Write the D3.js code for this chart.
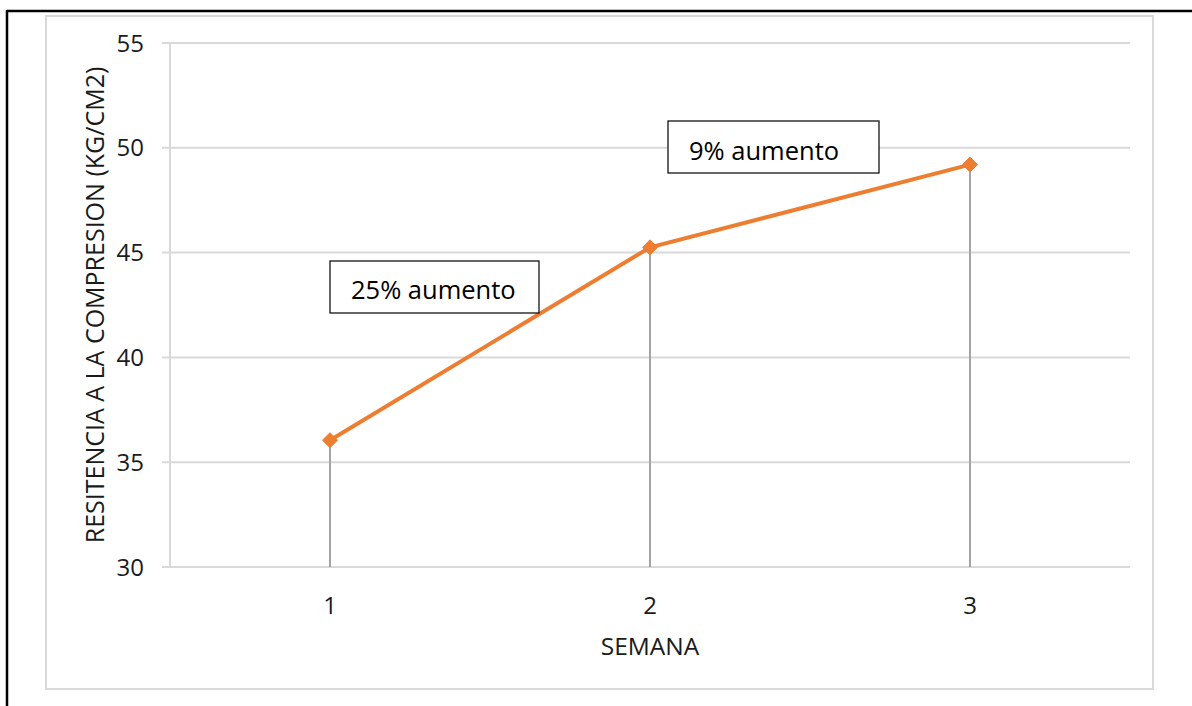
<!DOCTYPE html>
<html>
<head>
<meta charset="utf-8">
<script src="https://cdn.jsdelivr.net/npm/d3@7"></script>
<style>
  html, body { margin: 0; padding: 0; background: #fff; }
  svg { display: block; }
  text { font-family: "Open Sans", "Noto Sans", sans-serif; fill: #1a1a1a; }
</style>
</head>
<body>
<svg id="chart" width="1192" height="706"></svg>
<script>
// ---- data ----
const categories = ["1", "2", "3"];
const values = [36.05, 45.25, 49.2];
const yTicks = [30, 35, 40, 45, 50, 55];
const xTitle = "SEMANA";
const yTitle = "RESITENCIA A LA COMPRESION (KG/CM2)";
const annotations = [
  { label: "25% aumento" },
  { label: "9% aumento" }
];

// ---- layout ----
const svg = d3.select("#chart");
const plot = { left: 170, right: 1130, top: 43, bottom: 567 };

const x = d3.scaleBand().domain(categories).range([plot.left, plot.right]).padding(0);
const y = d3.scaleLinear().domain([30, 55]).range([plot.bottom, plot.top]);
const cx = d => x(d) + x.bandwidth() / 2;

// outer page border (black, top + left)
svg.append("line").attr("x1", 7).attr("x2", 1192).attr("y1", 11).attr("y2", 11)
  .attr("stroke", "#000").attr("stroke-width", 2.5);
svg.append("line").attr("x1", 7).attr("x2", 7).attr("y1", 10).attr("y2", 706)
  .attr("stroke", "#000").attr("stroke-width", 2.5);

// chart area frame
svg.append("rect").attr("x", 46).attr("y", 16).attr("width", 1107).attr("height", 673)
  .attr("fill", "#fff").attr("stroke", "#d9d9d9").attr("stroke-width", 2);

// gridlines
svg.append("g").selectAll("line").data(yTicks).join("line")
  .attr("x1", plot.left - 8).attr("x2", plot.right)
  .attr("y1", d => y(d)).attr("y2", d => y(d))
  .attr("stroke", "#d9d9d9").attr("stroke-width", 2);

// y axis line
svg.append("line").attr("x1", plot.left).attr("x2", plot.left)
  .attr("y1", y(55)).attr("y2", y(30)).attr("stroke", "#d9d9d9").attr("stroke-width", 2);

// y tick labels
svg.append("g").selectAll("text").data(yTicks).join("text")
  .attr("x", 144).attr("y", d => y(d)).attr("dy", "0.36em")
  .attr("text-anchor", "end").attr("font-size", 24).text(d => d);

// x tick labels
svg.append("g").selectAll("text").data(categories).join("text")
  .attr("x", d => cx(d)).attr("y", 614)
  .attr("text-anchor", "middle").attr("font-size", 24).text(d => d);

// axis titles
svg.append("text").attr("x", cx("2")).attr("y", 655)
  .attr("text-anchor", "middle").attr("font-size", 24.5).text(xTitle);
svg.append("text").attr("transform", `translate(104,${(y(55)+y(30))/2}) rotate(-90)`)
  .attr("text-anchor", "middle").attr("font-size", 25).text(yTitle);

// drop lines
svg.append("g").selectAll("line").data(values).join("line")
  .attr("x1", (d, i) => cx(categories[i])).attr("x2", (d, i) => cx(categories[i]))
  .attr("y1", d => y(d)).attr("y2", y(30))
  .attr("stroke", "#a5a5a5").attr("stroke-width", 2);

// line
const line = d3.line().x((d, i) => cx(categories[i])).y(d => y(d));
svg.append("path").datum(values).attr("d", line)
  .attr("fill", "none").attr("stroke", "#ed7d31").attr("stroke-width", 4)
  .attr("stroke-linejoin", "round");

// markers (diamonds)
svg.append("g").selectAll("path").data(values).join("path")
  .attr("transform", (d, i) => `translate(${cx(categories[i])},${y(d)})`)
  .attr("d", "M0,-7.5L7.5,0L0,7.5L-7.5,0Z")
  .attr("fill", "#ed7d31").attr("stroke", "#ed7d31").attr("stroke-width", 1);

// annotation boxes
const boxes = [
  { x: 330, y: 261, w: 209, h: 52, tx: 351, ty: 299 },
  { x: 668, y: 121, w: 211, h: 52, tx: 689, ty: 160 }
];
boxes.forEach((b, i) => {
  const g = svg.append("g");
  g.append("rect").attr("x", b.x).attr("y", b.y).attr("width", b.w).attr("height", b.h)
    .attr("fill", "#fff").attr("stroke", "#000").attr("stroke-width", 1.2);
  g.append("text").attr("x", b.tx).attr("y", b.ty).attr("font-size", 25.5)
    .style("fill", "#000").text(annotations[i].label);
});
</script>
</body>
</html>
